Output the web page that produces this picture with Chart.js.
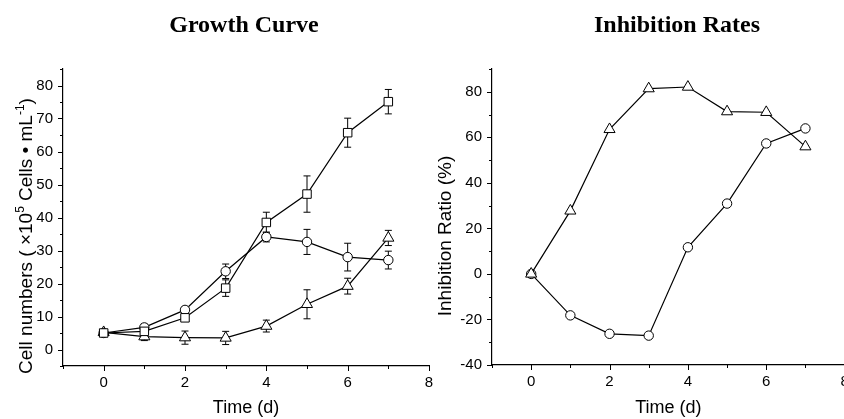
<!DOCTYPE html>
<html>
<head>
<meta charset="utf-8">
<script src="https://cdn.jsdelivr.net/npm/chart.js@4/dist/chart.umd.min.js"></script>
<style>
  html, body { margin: 0; padding: 0; background: #fff; overflow: hidden; }
  body { width: 844px; height: 419px; position: relative; }
  canvas { position: absolute; top: 0; }
  #growthChart { left: 0; }
  #ratioChart { left: 422px; }
</style>
</head>
<body>
<canvas id="growthChart" width="440" height="419"></canvas>
<canvas id="ratioChart" width="440" height="419"></canvas>
<script>
// days of culture
const days = [0, 1, 2, 3, 4, 5, 6, 7];

// growth curve (x10^5 cells/mL) with standard deviations
const growthSquare = [5.0, 5.5, 9.6, 18.6, 38.5, 47.1, 65.7, 75.1];
const growthSquareSd = [0.5, 1.0, 1.0, 2.5, 3.1, 5.5, 4.4, 3.7];
const growthCircle = [5.0, 6.7, 12.0, 23.7, 34.1, 32.6, 28.0, 27.1];
const growthCircleSd = [0.4, 1.0, 1.0, 2.2, 1.5, 3.8, 4.2, 2.7];
const growthTriangle = [5.2, 3.9, 3.6, 3.5, 7.1, 13.7, 19.2, 33.8];
const growthTriangleSd = [0.4, 1.2, 2.0, 2.0, 1.8, 4.4, 2.4, 2.3];

// inhibition ratio (%)
const ratioTriangle = [0, 27.7, 63.5, 81.4, 82.1, 71.3, 71.0, 55.9];
const ratioCircle = [0, -18.2, -26.3, -27.1, 11.7, 30.9, 57.3, 63.9];

// ticks
const timeTicks = [-1, 0, 1, 2, 3, 4, 5, 6, 7, 8];
const timeLabels = [0, 2, 4, 6, 8];
const cellTicks = [-5, 0, 5, 10, 15, 20, 25, 30, 35, 40, 45, 50, 55, 60, 65, 70, 75, 80, 85];
const cellLabels = [0, 10, 20, 30, 40, 50, 60, 70, 80];
const ratioTicks = [-40, -30, -20, -10, 0, 10, 20, 30, 40, 50, 60, 70, 80, 90];
const ratioLabels = [-40, -20, 0, 20, 40, 60, 80];

Chart.defaults.font.family = "'Liberation Sans', Arial, sans-serif";
Chart.defaults.color = "#000";

const toPoints = (ys) => ys.map((y, i) => ({ x: days[i], y }));

function series(label, ys, style, radius, sd) {
  return {
    label,
    data: toPoints(ys),
    sd,
    borderColor: "#000",
    borderWidth: 1.2,
    pointStyle: style,
    pointRadius: radius,
    pointHoverRadius: radius,
    pointBackgroundColor: "#fff",
    pointBorderColor: "#000",
    pointBorderWidth: 1,
    tension: 0,
  };
}

function axis(position, min, max, values, labels, size, tickPad) {
  return {
    type: "linear",
    position,
    min,
    max,
    afterBuildTicks: (scale) => {
      scale.ticks = values.map((v) => ({ value: v }));
    },
    afterFit: (scale) => {
      if (position === "left") scale.width = size;
      else scale.height = size;
    },
    grid: { display: false, drawTicks: true, tickLength: 5 },
    border: { display: true, color: "#000", width: 1.2 },
    ticks: {
      autoSkip: false,
      maxRotation: 0,
      padding: tickPad,
      font: { size: 15 },
      callback: (v) => (labels.includes(v) ? String(v) : ""),
    },
  };
}

// error bars drawn behind the markers
const errorBars = {
  id: "errorBars",
  beforeDatasetsDraw(chart) {
    const ctx = chart.ctx;
    const { x, y } = chart.scales;
    ctx.save();
    ctx.strokeStyle = "#000";
    ctx.lineWidth = 1;
    chart.data.datasets.forEach((ds) => {
      if (!ds.sd) return;
      ds.data.forEach((p, i) => {
        const px = x.getPixelForValue(p.x);
        const top = y.getPixelForValue(p.y + ds.sd[i]);
        const bot = y.getPixelForValue(p.y - ds.sd[i]);
        ctx.beginPath();
        ctx.moveTo(px, top);
        ctx.lineTo(px, bot);
        ctx.moveTo(px - 3.5, top);
        ctx.lineTo(px + 3.5, top);
        ctx.moveTo(px - 3.5, bot);
        ctx.lineTo(px + 3.5, bot);
        ctx.stroke();
      });
    });
    ctx.restore();
  },
};

// outward tick marks, long for labelled ticks and short for the others
const tickMarks = {
  id: "tickMarks",
  afterDraw(chart) {
    const ctx = chart.ctx;
    ctx.save();
    ctx.strokeStyle = "#000";
    ctx.lineWidth = 1;
    Object.values(chart.scales).forEach((scale) => {
      scale.ticks.forEach((t) => {
        const len = t.label !== "" ? 5 : 3;
        const p = Math.round(scale.getPixelForValue(t.value)) + 0.5;
        ctx.beginPath();
        if (scale.isHorizontal()) {
          ctx.moveTo(p, scale.top);
          ctx.lineTo(p, scale.top + len);
        } else {
          ctx.moveTo(scale.right, p);
          ctx.lineTo(scale.right - len, p);
        }
        ctx.stroke();
      });
    });
    ctx.restore();
  },
};

// chart heading and rotated y title (with superscripts)
function headings(title, titleX, yParts, yTitleX, yTitleY) {
  return {
    id: "headings",
    afterDraw(chart) {
      const ctx = chart.ctx;
      ctx.save();
      ctx.fillStyle = "#000";
      ctx.textBaseline = "alphabetic";
      ctx.textAlign = "center";
      ctx.font = "bold 24px 'Liberation Serif', 'Times New Roman', serif";
      ctx.fillText(title, titleX, 32);

      const base = "19px 'Liberation Sans', Arial, sans-serif";
      const sup = "12px 'Liberation Sans', Arial, sans-serif";
      let total = 0;
      yParts.forEach((p) => {
        ctx.font = p.sup ? sup : base;
        total += ctx.measureText(p.text).width;
      });
      ctx.translate(yTitleX, yTitleY);
      ctx.rotate(-Math.PI / 2);
      ctx.textAlign = "left";
      let pos = -total / 2;
      yParts.forEach((p) => {
        ctx.font = p.sup ? sup : base;
        ctx.fillText(p.text, pos, p.sup ? -7.5 : 0);
        pos += ctx.measureText(p.text).width;
      });
      ctx.restore();
    },
  };
}

function xTitle() {
  return {
    display: true,
    text: "Time (d)",
    font: { size: 18 },
    padding: { top: 0, bottom: 0 },
  };
}

const growthX = axis("bottom", -1, 8, timeTicks, timeLabels, 53, 3);
growthX.title = xTitle();
const growthY = axis("left", -5, 85, cellTicks, cellLabels, 63, 5);

new Chart(document.getElementById("growthChart"), {
  type: "line",
  data: {
    datasets: [
      series("Square", growthSquare, "rect", 6, growthSquareSd),
      series("Circle", growthCircle, "circle", 4.7, growthCircleSd),
      series("Triangle", growthTriangle, "triangle", 6.4, growthTriangleSd),
    ],
  },
  options: {
    responsive: false,
    animation: false,
    layout: { padding: { left: 0, right: 11, top: 69, bottom: 0 } },
    plugins: { legend: { display: false }, tooltip: { enabled: false } },
    scales: { x: growthX, y: growthY },
  },
  plugins: [
    errorBars,
    tickMarks,
    headings(
      "Growth Curve",
      244,
      [
        { text: "Cell numbers ( \u00D710" },
        { text: "5", sup: true },
        { text: " Cells \u2022 mL" },
        { text: "-1", sup: true },
        { text: ")" },
      ],
      31.5,
      236
    ),
  ],
});

const ratioX = axis("bottom", -1, 8, timeTicks, timeLabels, 54, 3);
ratioX.title = xTitle();
const ratioY = axis("left", -40, 90, ratioTicks, ratioLabels, 70, 5);

new Chart(document.getElementById("ratioChart"), {
  type: "line",
  data: {
    datasets: [
      series("Triangle", ratioTriangle, "triangle", 6.4),
      series("Circle", ratioCircle, "circle", 4.7),
    ],
  },
  options: {
    responsive: false,
    animation: false,
    layout: { padding: { left: 0, right: 17.4, top: 69, bottom: 0 } },
    plugins: { legend: { display: false }, tooltip: { enabled: false } },
    scales: { x: ratioX, y: ratioY },
  },
  plugins: [
    tickMarks,
    headings(
      "Inhibition Rates",
      677 - 422,
      [{ text: "Inhibition Ratio (%)" }],
      450.5 - 422,
      236
    ),
  ],
});
</script>
</body>
</html>
